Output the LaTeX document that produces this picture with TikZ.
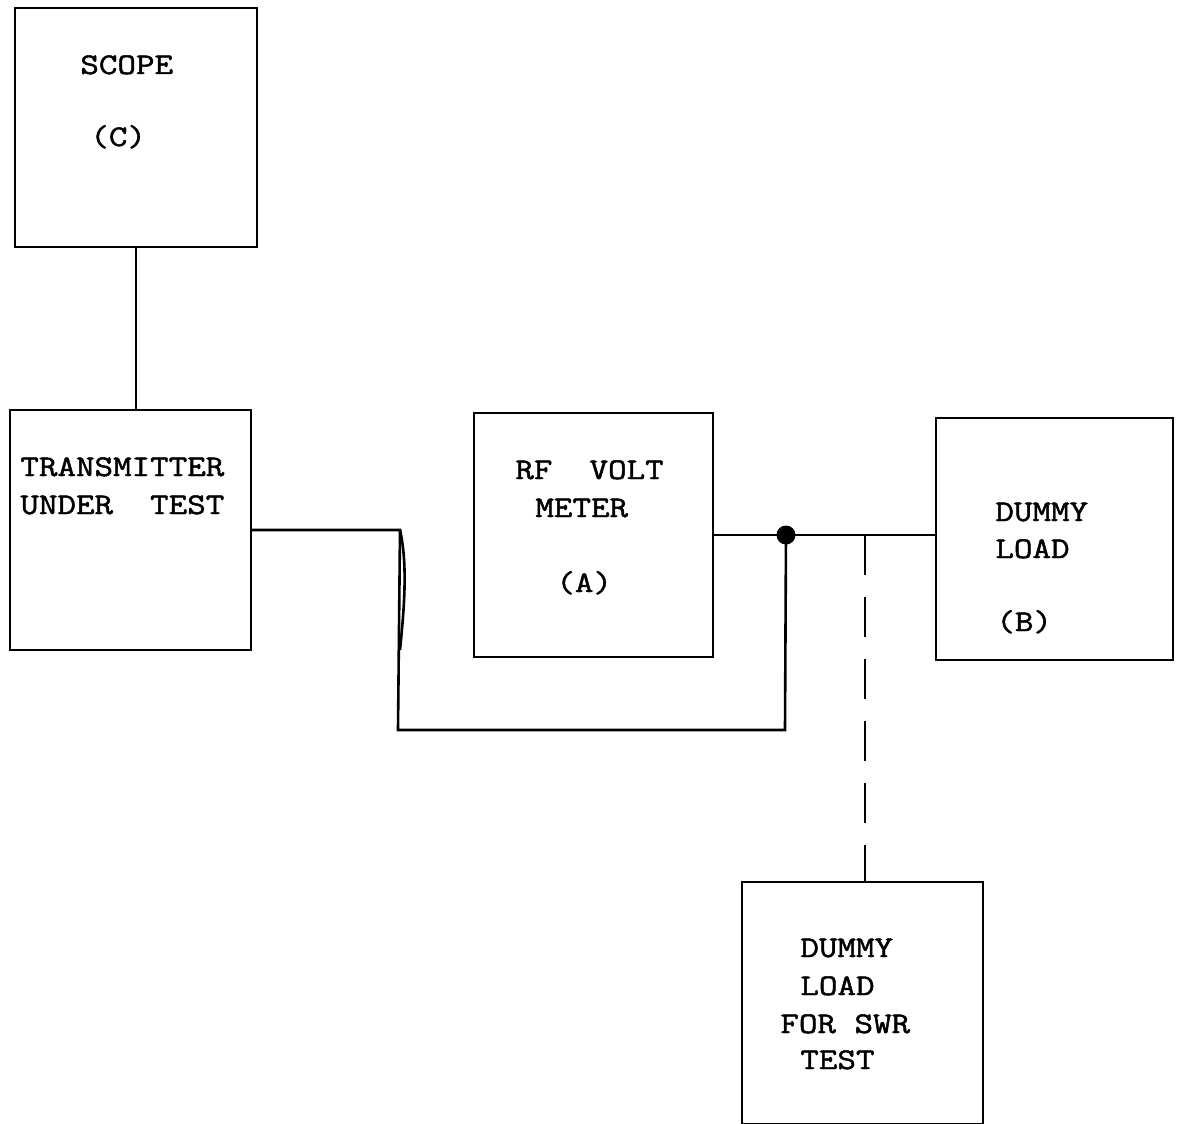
\documentclass[tikz,border=0pt]{standalone}
\usepackage{fontspec}
\newfontfamily\typew[FakeStretch=1.2,FakeBold=1.6]{Latin Modern Mono}
\usetikzlibrary{fit}
\begin{document}
\begin{tikzpicture}[x=0.5pt,y=-0.5pt,
  box/.style={draw,line width=1.1pt,inner sep=0pt},
  wire/.style={line width=1.3pt},
  lbl/.style={font=\typew\fontsize{15}{18}\selectfont,inner sep=0pt,anchor=base west},
  dashwire/.style={line width=1.3pt,dash pattern=on 20pt off 11pt}]
\useasboundingbox (0,0) rectangle (1180,1124);
% boxes
\node[box,fit={(15,8) (257,247)}] (scope) {};
\node[box,fit={(10,410) (251,650)}] (tx) {};
\node[box,fit={(474,413) (713,657)}] (rf) {};
\node[box,fit={(936,418) (1173,660)}] (dl) {};
\node[box,fit={(742,882) (983,1124)}] (swr) {};
% labels
\node[lbl] (tScope) at (80,74) {SCOPE};
\node[lbl] (tC) at (90,146) {(C)};
\node[lbl] (tTx1) at (20,476) {TRANSMITTER};
\node[lbl] (tTx2) at (20,514) {UNDER\ \ TEST};
\node[lbl] (tRf1) at (515,479) {RF\ \ VOLT};
\node[lbl] (tRf2) at (535,517) {METER};
\node[lbl] (tA) at (556,592) {(A)};
\node[lbl] (tDl1) at (995,521) {DUMMY};
\node[lbl] (tDl2) at (995,558) {LOAD};
\node[lbl] (tB) at (996,631) {(B)};
\node[lbl] (tS1) at (800,957) {DUMMY};
\node[lbl] (tS2) at (800,995) {LOAD};
\node[lbl] (tS3) at (780,1033) {FOR SWR};
\node[lbl] (tS4) at (800,1069) {TEST};
% connectors
\coordinate (j) at (786,535);
\coordinate (c1) at (400,530);
\coordinate (c2) at (398,730);
\coordinate (c3) at (785,730);
\coordinate (d) at (865,535);
\draw[wire] (scope.south) -- (scope.south |- tx.north);
\draw[wire] (tx.east) -- (c1) -- (c2) -- (c3) -- (j);
\draw[wire] (c1) .. controls (408,565) and (404,610) .. (400,650);
\draw[wire] (rf.east |- j) -- (j) -- (j -| dl.west);
\draw[dashwire] (d) -- (d |- swr.north);
\fill (j) circle (9.5);
\end{tikzpicture}
\end{document}
